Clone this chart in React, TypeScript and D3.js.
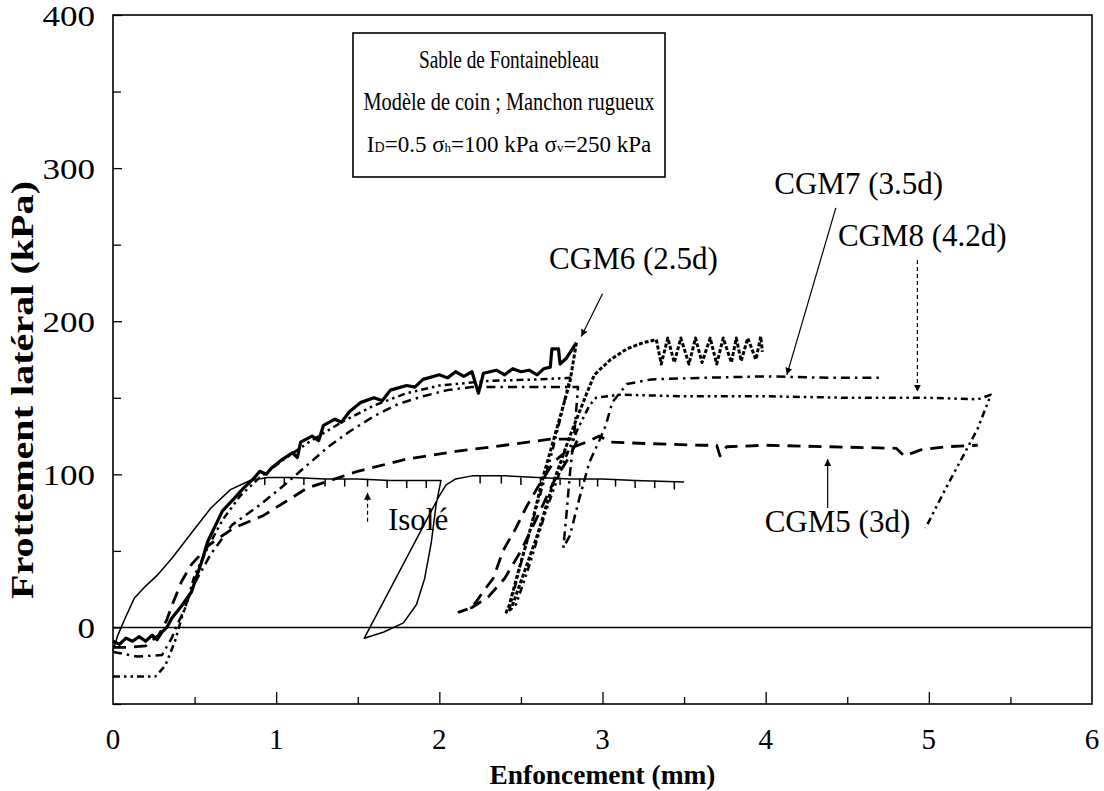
import React, { useRef, useEffect } from "react";
import * as d3 from "d3";

type Pt = [number, number];

// axis ticks
const xTickValues = [0, 1, 2, 3, 4, 5, 6];
const xMinorTicks = [0.5, 1.5, 2.5, 3.5, 4.5, 5.5];
const yTickValues = [0, 100, 200, 300, 400];
const yMinorTicks = [-50, 50, 150, 250, 350];

// Isolé : loading, unload loop, reload (mm, kPa)
const isole: Pt[] = [
  [0, -15], [0.03, -5], [0.07, 5], [0.13, 19], [0.2, 27], [0.27, 34], [0.36, 45],
  [0.49, 63], [0.6, 78], [0.72, 90], [0.84, 96], [0.95, 98], [1.1, 98], [1.3, 97],
  [1.5, 97], [1.7, 96], [1.9, 96], [2.01, 96],
  [1.98, 80], [1.95, 55], [1.91, 32], [1.86, 15], [1.78, 3], [1.66, -3], [1.54, -7],
  [2.0, 86], [2.04, 93], [2.1, 97], [2.2, 99], [2.4, 99], [2.6, 98], [2.8, 97],
  [3.0, 97], [3.2, 96], [3.5, 95],
];
const isoleSpikes: Pt[] = [
  [0.93, 98], [1.05, 98], [1.17, 98], [1.3, 97], [1.42, 97], [1.56, 97], [1.68, 96],
  [1.8, 96], [1.92, 96], [2.25, 99], [2.38, 99], [2.5, 98], [2.62, 98], [2.74, 98],
  [2.86, 97], [2.97, 97], [3.08, 97], [3.2, 96], [3.32, 96], [3.44, 95],
];

// CGM6 (2.5d) : noisy loading curve
const cgm6Load: Pt[] = [
  [0, -9], [0.04, -11], [0.08, -7], [0.12, -9], [0.16, -6], [0.2, -9], [0.24, -5],
  [0.27, -8], [0.3, -3], [0.33, 0], [0.36, 6], [0.42, 14], [0.48, 23], [0.55, 45],
  [0.58, 56], [0.67, 76], [0.74, 84], [0.8, 91], [0.86, 97], [0.9, 102], [0.94, 100],
  [0.97, 104], [1.04, 110], [1.1, 114], [1.13, 111], [1.15, 121], [1.22, 125],
  [1.26, 122], [1.29, 132], [1.36, 136], [1.4, 134], [1.45, 141], [1.52, 147],
  [1.6, 150], [1.65, 148], [1.7, 155], [1.8, 158], [1.85, 157], [1.9, 162],
  [2.0, 165], [2.05, 163], [2.1, 167], [2.15, 164], [2.2, 167], [2.24, 153],
  [2.27, 166], [2.35, 168], [2.4, 165], [2.45, 169], [2.5, 167], [2.55, 168],
  [2.6, 165], [2.64, 169], [2.68, 170], [2.69, 182], [2.73, 182], [2.74, 172],
  [2.78, 176], [2.84, 186],
];

// CGM6 unload / reload with saw-tooth plateau
const cgm6Reload: Pt[] = [
  [2.84, 186], [2.8, 160], [2.72, 130], [2.64, 100], [2.56, 65], [2.48, 35],
  [2.43, 15], [2.41, 10], [2.44, 12], [2.5, 30], [2.6, 60], [2.7, 95], [2.8, 125],
  [2.9, 152], [2.95, 165], [3.05, 175], [3.15, 182], [3.25, 186], [3.33, 188],
  [3.36, 172], [3.4, 189], [3.44, 173], [3.48, 189], [3.53, 172], [3.57, 189],
  [3.61, 173], [3.66, 189], [3.7, 172], [3.74, 189], [3.79, 173], [3.82, 189],
  [3.85, 174], [3.89, 189], [3.94, 175], [3.97, 190], [3.98, 180],
];

// CGM5 (3d)
const cgm5: Pt[] = [
  [0, -13], [0.1, -13], [0.2, -12], [0.28, -5], [0.33, 5], [0.36, 14], [0.42, 30],
  [0.48, 41], [0.59, 54], [0.74, 65], [0.92, 73], [1.19, 91], [1.5, 102], [1.8, 110],
  [2.1, 115], [2.4, 119], [2.68, 123], [2.85, 123],
  [2.8, 112], [2.7, 95], [2.6, 72], [2.5, 50], [2.4, 32], [2.3, 20], [2.2, 13], [2.12, 10],
  [2.2, 13], [2.28, 25], [2.33, 32], [2.39, 50], [2.47, 65], [2.53, 78], [2.6, 91],
  [2.7, 108], [2.8, 117], [2.9, 121], [2.98, 125], [3.05, 121], [3.3, 120],
  [3.6, 119], [3.7, 119], [3.72, 112], [3.76, 118], [4.0, 119], [4.4, 118],
  [4.8, 117], [4.85, 112], [4.95, 116], [5.1, 118], [5.3, 119],
];

// CGM7 (3.5d)
const cgm7: Pt[] = [
  [0, -16], [0.15, -19], [0.3, -18], [0.36, -7], [0.39, 1], [0.44, 12], [0.48, 25],
  [0.6, 48], [0.73, 67], [0.9, 80], [1.05, 93], [1.19, 106], [1.32, 118], [1.45, 128],
  [1.6, 138], [1.75, 146], [1.9, 151], [2.05, 155], [2.2, 157], [2.5, 157], [2.85, 157],
  [2.83, 130], [2.8, 100], [2.78, 75], [2.76, 52],
  [2.8, 60], [2.86, 85], [2.92, 108], [2.98, 122], [3.02, 132], [3.06, 147],
  [3.15, 159], [3.3, 162], [3.6, 163], [4.0, 164], [4.4, 163], [4.72, 163],
];

// CGM8 (4.2d)
const cgm8: Pt[] = [
  [0, -32], [0.26, -32], [0.32, -25], [0.38, -9], [0.42, 6], [0.46, 19], [0.5, 34],
  [0.58, 52], [0.67, 70], [0.78, 86], [0.9, 98], [1.05, 110], [1.2, 121], [1.4, 134],
  [1.6, 145], [1.8, 153], [2.0, 158], [2.3, 161], [2.6, 162], [2.8, 163],
  [2.75, 140], [2.68, 110], [2.6, 80], [2.52, 50], [2.46, 25], [2.43, 12],
  [2.47, 15], [2.55, 40], [2.65, 75], [2.75, 105], [2.85, 130], [2.92, 145],
  [2.96, 150], [3.1, 152], [3.5, 151], [4.0, 151], [4.5, 150], [5.0, 150],
  [5.3, 149], [5.38, 152], [5.3, 130], [5.2, 110], [5.1, 90], [4.98, 65],
];

const legendLines = ["Sable de Fontainebleau", "Modèle de coin ; Manchon rugueux"];

const curveLabels: { text: string; at: Pt }[] = [
  { text: "CGM6 (2.5d)", at: [3.19, 239] },
  { text: "CGM7 (3.5d)", at: [4.57, 288] },
  { text: "CGM8 (4.2d)", at: [4.96, 254] },
  { text: "CGM5 (3d)", at: [4.44, 67] },
  { text: "Isolé", at: [1.87, 68] },
];

const pointers: { from: Pt; to: Pt; dashed: boolean }[] = [
  { from: [3.0, 218], to: [2.87, 190], dashed: false },
  { from: [4.43, 274], to: [4.13, 165], dashed: false },
  { from: [4.93, 240], to: [4.93, 154], dashed: true },
  { from: [4.38, 78], to: [4.38, 110], dashed: false },
  { from: [1.56, 69], to: [1.56, 88], dashed: true },
];

export default function App() {
  const ref = useRef<SVGSVGElement | null>(null);

  useEffect(() => {
    document.body.style.margin = "0";
    const width = 1104;
    const height = 791;
    const font = "'Liberation Serif', 'Times New Roman', serif";

    d3.select(ref.current).selectAll("*").remove();
    const svg = d3.select(ref.current)
      .attr("width", width)
      .attr("height", height)
      .style("display", "block")
      .style("background", "#fff");

    const x = d3.scaleLinear().domain([0, 6]).range([113, 1092]);
    const y = d3.scaleLinear().domain([-50, 400]).range([704, 15]);

    svg.append("defs").append("marker")
      .attr("id", "head")
      .attr("viewBox", "0 0 10 10")
      .attr("refX", 10).attr("refY", 5)
      .attr("markerWidth", 7).attr("markerHeight", 10)
      .attr("markerUnits", "userSpaceOnUse")
      .attr("orient", "auto")
      .append("path").attr("d", "M0,0 L10,5 L0,10 z").attr("fill", "#000");

    // frame
    svg.append("rect")
      .attr("x", x(0)).attr("y", y(400))
      .attr("width", x(6) - x(0)).attr("height", y(-50) - y(400))
      .attr("fill", "none").attr("stroke", "#000").attr("stroke-width", 1.6);

    // ticks (inward)
    svg.append("g").attr("transform", `translate(${x(0)},0)`)
      .call(d3.axisRight(y).tickValues(yTickValues).tickSize(9).tickFormat(() => ""))
      .select(".domain").remove();
    svg.append("g").attr("transform", `translate(${x(0)},0)`)
      .call(d3.axisRight(y).tickValues(yMinorTicks).tickSize(8).tickFormat(() => ""))
      .select(".domain").remove();
    svg.append("g").attr("transform", `translate(0,${y(-50)})`)
      .call(d3.axisTop(x).tickValues(xTickValues.slice(1, -1)).tickSize(12).tickFormat(() => ""))
      .select(".domain").remove();
    svg.append("g").attr("transform", `translate(0,${y(-50)})`)
      .call(d3.axisTop(x).tickValues(xMinorTicks).tickSize(7).tickFormat(() => ""))
      .select(".domain").remove();
    svg.selectAll(".tick line").attr("stroke-width", 1.3);

    // tick labels
    svg.append("g").selectAll("text").data(yTickValues).enter().append("text")
      .attr("x", 95).attr("y", (d) => y(d) + 4)
      .attr("text-anchor", "end").attr("dominant-baseline", "middle")
      .attr("font-family", font).attr("font-size", 30)
      .attr("textLength", (d) => String(d).length * 17.5)
      .attr("lengthAdjust", "spacingAndGlyphs")
      .text((d) => String(d));
    svg.append("g").selectAll("text").data(xTickValues).enter().append("text")
      .attr("x", (d) => x(d)).attr("y", 742)
      .attr("text-anchor", "middle").attr("dominant-baseline", "middle")
      .attr("font-family", font).attr("font-size", 29)
      .text((d) => String(d));

    // axis titles
    svg.append("text")
      .attr("transform", `translate(33,390) rotate(-90)`)
      .attr("text-anchor", "middle")
      .attr("font-family", font).attr("font-size", 31).attr("font-weight", "bold")
      .attr("textLength", 418).attr("lengthAdjust", "spacingAndGlyphs")
      .text("Frottement latéral (kPa)");
    svg.append("text")
      .attr("x", x(3)).attr("y", 784)
      .attr("text-anchor", "middle")
      .attr("font-family", font).attr("font-size", 28).attr("font-weight", "bold")
      .attr("textLength", 226).attr("lengthAdjust", "spacingAndGlyphs")
      .text("Enfoncement (mm)");

    // zero line
    svg.append("line")
      .attr("x1", x(0)).attr("x2", x(6)).attr("y1", y(0)).attr("y2", y(0))
      .attr("stroke", "#000").attr("stroke-width", 1.6);

    const line = d3.line<Pt>().x((d) => x(d[0])).y((d) => y(d[1]));
    const draw = (data: Pt[], w: number, dash: string | null) =>
      svg.append("path").attr("d", line(data))
        .attr("fill", "none").attr("stroke", "#000")
        .attr("stroke-width", w)
        .attr("stroke-linejoin", "round")
        .attr("stroke-dasharray", dash);

    draw(isole, 1.5, null);
    svg.append("g").selectAll("line").data(isoleSpikes).enter().append("line")
      .attr("x1", (d) => x(d[0])).attr("x2", (d) => x(d[0]))
      .attr("y1", (d) => y(d[1])).attr("y2", (d) => y(d[1] - 5))
      .attr("stroke", "#000").attr("stroke-width", 1.5);
    draw(cgm5, 2.8, "13 8");
    draw(cgm7, 2.5, "9 5 2.5 5");
    draw(cgm8, 2.5, "7 4 2.5 4 2.5 4");
    draw(cgm6Reload, 3, "4 2");
    draw(cgm6Load, 3.2, null);

    // pointers
    svg.append("g").selectAll("line").data(pointers).enter().append("line")
      .attr("x1", (d) => x(d.from[0])).attr("y1", (d) => y(d.from[1]))
      .attr("x2", (d) => x(d.to[0])).attr("y2", (d) => y(d.to[1]))
      .attr("stroke", "#000").attr("stroke-width", 1.2)
      .attr("stroke-dasharray", (d) => (d.dashed ? "4 3" : null))
      .attr("marker-end", "url(#head)");

    // curve labels
    svg.append("g").selectAll("text").data(curveLabels).enter().append("text")
      .attr("x", (d) => x(d.at[0])).attr("y", (d) => y(d.at[1]))
      .attr("text-anchor", "middle").attr("dominant-baseline", "middle")
      .attr("font-family", font).attr("font-size", 31)
      .text((d) => d.text);

    // legend box
    const box = svg.append("g");
    box.append("rect")
      .attr("x", 353).attr("y", 33).attr("width", 312).attr("height", 144)
      .attr("fill", "#fff").attr("stroke", "#000").attr("stroke-width", 1.6);
    const legendWidths = [180, 291];
    box.selectAll("text.l").data(legendLines).enter().append("text")
      .attr("x", 509).attr("y", (_, i) => 68 + i * 42)
      .attr("text-anchor", "middle")
      .attr("font-family", font).attr("font-size", 26)
      .attr("textLength", (_, i) => legendWidths[i])
      .attr("lengthAdjust", "spacingAndGlyphs")
      .text((d) => d);
    const t3 = box.append("text")
      .attr("x", 509).attr("y", 152)
      .attr("text-anchor", "middle")
      .attr("font-family", font).attr("font-size", 23);
    t3.append("tspan").text("I");
    t3.append("tspan").attr("font-size", 14).text("D");
    t3.append("tspan").text("=0.5 σ");
    t3.append("tspan").attr("font-size", 13).text("h");
    t3.append("tspan").text("=100 kPa σ");
    t3.append("tspan").attr("font-size", 13).text("v");
    t3.append("tspan").text("=250 kPa");
  }, []);

  return <svg ref={ref}></svg>;
}
